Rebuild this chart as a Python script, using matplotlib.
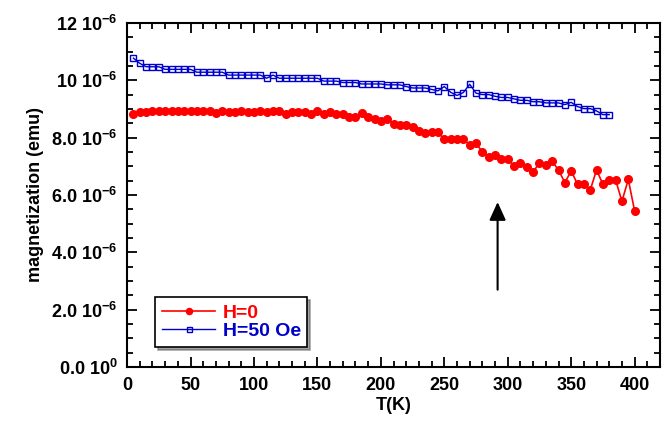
import matplotlib.pyplot as plt
from matplotlib.ticker import MultipleLocator, FuncFormatter

plt.rcParams['font.family'] = ['Liberation Sans', 'DejaVu Sans']
plt.rcParams['font.weight'] = 'bold'
plt.rcParams['mathtext.fontset'] = 'custom'
plt.rcParams['mathtext.rm'] = 'Liberation Sans:bold'
plt.rcParams['mathtext.bf'] = 'Liberation Sans:bold'

# Data (magnetization in units of 1e-6 emu)
t_h0 = list(range(5, 405, 5))
m_h0 = [8.82, 8.89, 8.89, 8.93, 8.93, 8.93, 8.93, 8.93, 8.93, 8.93,
        8.93, 8.93, 8.93, 8.87, 8.93, 8.90, 8.90, 8.93, 8.90, 8.88,
        8.93, 8.88, 8.94, 8.94, 8.82, 8.88, 8.88, 8.88, 8.82, 8.93,
        8.82, 8.88, 8.82, 8.82, 8.73, 8.73, 8.85, 8.73, 8.66, 8.57,
        8.64, 8.49, 8.43, 8.43, 8.38, 8.23, 8.15, 8.18, 8.18, 7.95,
        7.95, 7.95, 7.95, 7.74, 7.80, 7.50, 7.34, 7.40, 7.25, 7.25,
        7.00, 7.10, 6.96, 6.81, 7.11, 7.03, 7.17, 6.87, 6.43, 6.84,
        6.37, 6.37, 6.17, 6.87, 6.37, 6.52, 6.52, 5.78, 6.54, 5.44]

t_h50 = list(range(5, 385, 5))
m_h50 = [10.77, 10.59, 10.47, 10.47, 10.47, 10.38, 10.38, 10.38, 10.38, 10.38,
         10.28, 10.28, 10.28, 10.28, 10.28, 10.18, 10.18, 10.18, 10.18, 10.18,
         10.18, 10.07, 10.18, 10.07, 10.07, 10.07, 10.07, 10.07, 10.07, 10.07,
         9.97, 9.97, 9.97, 9.92, 9.92, 9.92, 9.87, 9.87, 9.87, 9.87,
         9.84, 9.84, 9.84, 9.78, 9.73, 9.73, 9.73, 9.68, 9.63, 9.78,
         9.58, 9.47, 9.57, 9.86, 9.55, 9.50, 9.50, 9.44, 9.40, 9.40,
         9.35, 9.30, 9.30, 9.25, 9.25, 9.21, 9.21, 9.21, 9.15, 9.23,
         9.08, 9.01, 9.01, 8.93, 8.80, 8.80]

fig = plt.figure(figsize=(6.62, 4.28), dpi=100)
ax = fig.add_axes([0.192, 0.1425, 0.805, 0.804])

ax.plot(t_h0, [m * 1e-6 for m in m_h0], color='#ff0000', marker='o', ms=5.5,
        lw=1.2, label='H=0')
ax.plot(t_h50, [m * 1e-6 for m in m_h50], color='#0000cc', marker='s', ms=4.5,
        mfc='none', mew=1.0, lw=1.0, label='H=50 Oe')

# arrow
ax.annotate('', xy=(292, 5.85e-6), xytext=(292, 2.6e-6),
            arrowprops=dict(arrowstyle='-|>,head_width=0.5,head_length=1.1',
                            color='black', lw=1.5))

ax.set_xlim(0, 420)
ax.set_ylim(0, 12e-6)
ax.xaxis.set_major_locator(MultipleLocator(50))
ax.xaxis.set_minor_locator(MultipleLocator(10))
ax.yaxis.set_major_locator(MultipleLocator(2e-6))
ax.yaxis.set_minor_locator(MultipleLocator(0.5e-6))


def yfmt(v, pos):
    n = round(v * 1e6)
    if n == 0:
        return r'0.0 $10^{0}$'
    if n >= 10:
        return r'%d $10^{-6}$' % n
    return r'%.1f $10^{-6}$' % n


ax.yaxis.set_major_formatter(FuncFormatter(yfmt))
ax.tick_params(which='both', direction='in', top=True, right=True,
               labelsize=13, width=1.3)
ax.tick_params(which='major', length=7, pad=7)
ax.tick_params(which='minor', length=4)
for s in ax.spines.values():
    s.set_linewidth(1.5)

ax.set_xlabel('T(K)', fontsize=13, fontweight='bold', labelpad=2)
ax.set_ylabel('magnetization (emu)', fontsize=13, fontweight='bold', labelpad=5)

leg = ax.legend(loc='lower left', bbox_to_anchor=(0.035, 0.03), fontsize=14,
                frameon=True, fancybox=False, shadow=True, edgecolor='black',
                handlelength=2.7, borderpad=0.35, labelspacing=0.05,
                handletextpad=0.4, markerscale=0.8)
leg.get_frame().set_linewidth(1.2)
for txt, c in zip(leg.get_texts(), ['#ff0000', '#0000cc']):
    txt.set_color(c)
    txt.set_fontweight('bold')

fig.savefig('out.png', dpi=100)
